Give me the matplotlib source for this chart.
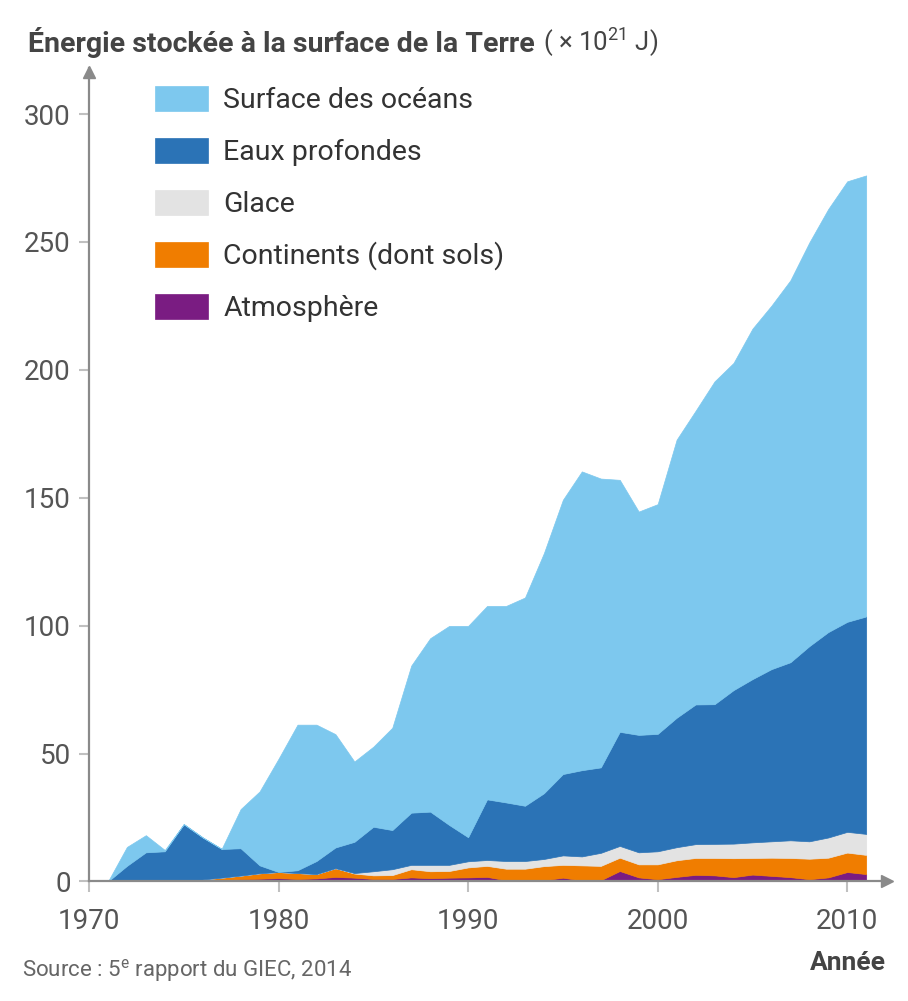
import matplotlib
matplotlib.use("Agg")
import matplotlib.pyplot as plt
import numpy as np

plt.rcParams['font.family'] = ['Roboto', 'DejaVu Sans']
plt.rcParams['mathtext.fontset'] = 'custom'
plt.rcParams['mathtext.rm'] = 'Roboto'
plt.rcParams['mathtext.it'] = 'Roboto:italic'
plt.rcParams['mathtext.bf'] = 'Roboto:bold'

# energy stored, 10^21 J, relative to 1971
years = list(range(1971, 2012))
atmosphere = [0, 0, 0, 0, 0, 0.3, 0.6, 0.9, 1.1, 1.3, 1.0, 1.2, 1.8, 1.5, 1.0, 1.0, 1.6, 1.3, 1.5, 1.6,
              1.8, 0.5, 0.4, 0.5, 1.5, 0.4, 0.5, 4.1, 1.6, 0.9, 1.8, 2.6, 2.4, 1.7, 2.7, 2.2, 1.7, 0.9,
              1.6, 3.7, 2.9]
continents = [0, 0, 0, 0, 0, 0.5, 0.9, 1.4, 2.1, 2.4, 2.3, 1.7, 3.4, 1.6, 1.4, 1.5, 3.2, 2.7, 2.6, 3.9,
              4.3, 4.5, 4.6, 5.5, 5.0, 5.9, 5.6, 5.2, 5.1, 5.8, 6.5, 6.6, 6.8, 7.4, 6.5, 7.1, 7.5, 8.0,
              7.7, 7.6, 7.5]
glace = [0, 0, 0, 0, 0, 0, 0, 0, 0, 0, 0, 0, 0, 0.2, 1.6, 2.3, 1.7, 2.5, 2.4, 2.4,
         2.3, 3.0, 3.0, 2.8, 3.7, 3.5, 5.1, 4.6, 4.7, 5.1, 5.1, 5.4, 5.5, 5.7, 6.1, 6.4, 6.9, 6.8,
         7.9, 8.1, 8.2]
eaux_profondes = [0, 6.1, 11.4, 11.8, 22.4, 16.4, 11.2, 10.7, 3.1, 0.0, 1.1, 5.1, 8.1, 12.2, 17.4, 15.3,
                  20.4, 20.8, 15.6, 9.4, 23.7, 22.9, 21.6, 25.7, 31.8, 33.7, 33.4, 44.6, 45.9, 45.9,
                  50.6, 54.6, 54.6, 60.0, 63.8, 67.3, 69.6, 76.3, 80.3, 82.1, 85.0]
surface_oceans = [0, 7.4, 6.7, 0.5, 0, 0, 0.1, 15.3, 28.9, 44.3, 56.9, 53.3, 44.3, 31.4, 31.3, 40.0,
                  57.5, 67.8, 77.8, 82.6, 75.6, 76.8, 81.4, 93.9, 107.2, 116.8, 112.9, 98.5, 87.3, 89.8,
                  108.7, 114.8, 126.2, 127.9, 137.0, 142.1, 149.3, 157.8, 165.4, 172.2, 172.4]

labels = ["Atmosphère", "Continents (dont sols)", "Glace", "Eaux profondes", "Surface des océans"]
colors = ["#7a1c82", "#f07d00", "#e3e3e3", "#2b73b6", "#7dc8ee"]
y_ticks = [0, 50, 100, 150, 200, 250, 300]
x_ticks = [1970, 1980, 1990, 2000, 2010]

axis_col = "#8a8a8a"
text_col = "#555555"

fig = plt.figure(figsize=(9.08, 10.01), dpi=100)
ax = fig.add_axes([0.098, 0.1194, 0.8789, 0.8127])

polys = ax.stackplot(years, atmosphere, continents, glace, eaux_profondes, surface_oceans,
                     colors=colors, labels=labels)
for p in polys:
    p.set_edgecolor(p.get_facecolor())
    p.set_linewidth(0.5)

ax.set_xlim(1970, 2012.1)
ax.set_ylim(0, 318)
ax.set_xticks(x_ticks)
ax.set_yticks(y_ticks)
ax.tick_params(axis='y', length=7, width=1.5, color="#c0c0c0", labelsize=20, labelcolor=text_col, pad=6)
ax.tick_params(axis='x', length=8, width=1.5, color="#c0c0c0", labelsize=20, labelcolor=text_col, pad=11)

for s in ['top', 'right']:
    ax.spines[s].set_visible(False)
for s in ['left', 'bottom']:
    ax.spines[s].set_color(axis_col)
    ax.spines[s].set_linewidth(1.6)
    ax.spines[s].set_zorder(5)

# arrow heads on the axes
ax.plot(1, 0, '>', transform=ax.transAxes, clip_on=False, color=axis_col, ms=9, zorder=6)
ax.plot(0, 0.995, '^', transform=ax.transAxes, clip_on=False, color=axis_col, ms=9, zorder=6)

handles, labs = ax.get_legend_handles_labels()
leg = ax.legend(handles[::-1], labs[::-1], loc='upper left', bbox_to_anchor=(155 / 908, 1 - 86 / 1001),
                bbox_transform=fig.transFigure, frameon=False, fontsize=20.5, handlelength=1.85,
                handleheight=1.0, handletextpad=0.55, labelspacing=0.82, borderpad=0, borderaxespad=0)
for t in leg.get_texts():
    t.set_color("#333333")

t1 = fig.text(28 / 908, 1 - 42 / 1001, "Énergie stockée à la surface de la Terre", fontsize=20.5,
              fontweight='bold', color="#444444", va='center')
fig.canvas.draw()
bb = t1.get_window_extent()
fig.text((bb.x1 + 8) / 908, 1 - 42 / 1001, "( $\\times$ 10$^{21}$ J)", fontsize=18.5, color="#444444",
         va='center')

fig.text(22 / 908, 1 - 970 / 1001, "Source : 5$^{\\mathrm{e}}$ rapport du GIEC, 2014", fontsize=16,
         color="#666666", va='center')
fig.text(886 / 908, 1 - 963 / 1001, "Année", fontsize=19, fontweight='bold', color="#444444",
         ha='right', va='center')

fig.savefig("out.png", dpi=100)
